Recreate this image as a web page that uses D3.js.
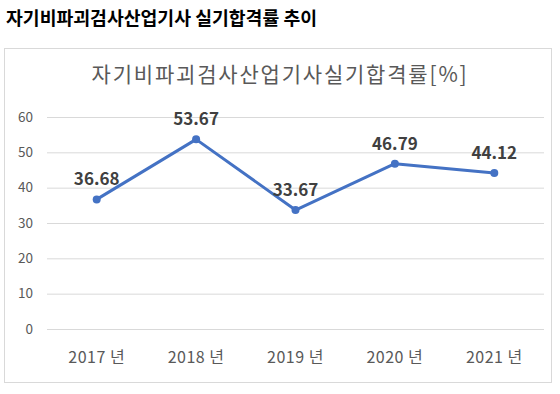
<!DOCTYPE html>
<html><head><meta charset="utf-8">
<script src="https://cdn.jsdelivr.net/npm/d3@7"></script>
<style>body{margin:0;background:#fff;font-family:"Noto Sans CJK KR","Malgun Gothic",sans-serif;}</style>
</head><body>
<svg id="c" width="560" height="394"></svg>
<script>
const categories = ["2017 년","2018 년","2019 년","2020 년","2021 년"];
const values = [36.68, 53.67, 33.67, 46.79, 44.12];
const yTicks = [0,10,20,30,40,50,60];

const svg = d3.select("#c");
const font = '"Noto Sans CJK KR", sans-serif';
svg.append("text").attr("x",6).attr("y",25).attr("font-family",font).attr("font-size",18.3).attr("font-weight","bold").attr("fill","#000").text("자기비파괴검사산업기사 실기합격률 추이");
svg.append("rect").attr("x",4.5).attr("y",48.5).attr("width",547).attr("height",334).attr("fill","#fff").attr("stroke","#d9d9d9");
svg.append("text").attr("x",280).attr("y",82).attr("text-anchor","middle").attr("font-family",font).attr("font-size",21).attr("letter-spacing",1.8).attr("fill","#595959").text("자기비파괴검사산업기사실기합격률[%]");

const x = d3.scaleBand().domain(categories).range([47,544]);
const y = d3.scaleLinear().domain([0,60]).range([329,117]);

const g = svg.append("g");
g.selectAll("line.grid").data(yTicks).enter().append("line")
 .attr("x1",47).attr("x2",544).attr("y1",d=>y(d)+0.5).attr("y2",d=>y(d)+0.5)
 .attr("stroke","#d9d9d9").attr("stroke-width",1);
g.selectAll("text.yt").data(yTicks).enter().append("text")
 .attr("x",33).attr("y",d=>y(d)+4.5).attr("text-anchor","end")
 .attr("font-family",font).attr("font-size",13.5).attr("fill","#595959").text(d=>d);
g.selectAll("text.xt").data(categories).enter().append("text")
 .attr("x",d=>x(d)+x.bandwidth()/2).attr("y",363).attr("text-anchor","middle")
 .attr("font-family",font).attr("font-size",16).attr("letter-spacing",0.5).attr("fill","#595959").text(d=>d);

const line = d3.line().x((d,i)=>x(categories[i])+x.bandwidth()/2).y(d=>y(d));
g.append("path").datum(values).attr("d",line).attr("fill","none").attr("stroke","#4472C4").attr("stroke-width",3).attr("stroke-linejoin","round");
g.selectAll("circle").data(values).enter().append("circle")
 .attr("cx",(d,i)=>x(categories[i])+x.bandwidth()/2).attr("cy",d=>y(d)).attr("r",4).attr("fill","#4472C4");
g.selectAll("text.lab").data(values).enter().append("text")
 .attr("x",(d,i)=>x(categories[i])+x.bandwidth()/2).attr("y",d=>y(d)-14)
 .attr("text-anchor","middle").attr("font-family",font).attr("font-size",17).attr("font-weight","bold").attr("fill","#404040").text(d=>d.toFixed(2));
</script>
</body></html>
